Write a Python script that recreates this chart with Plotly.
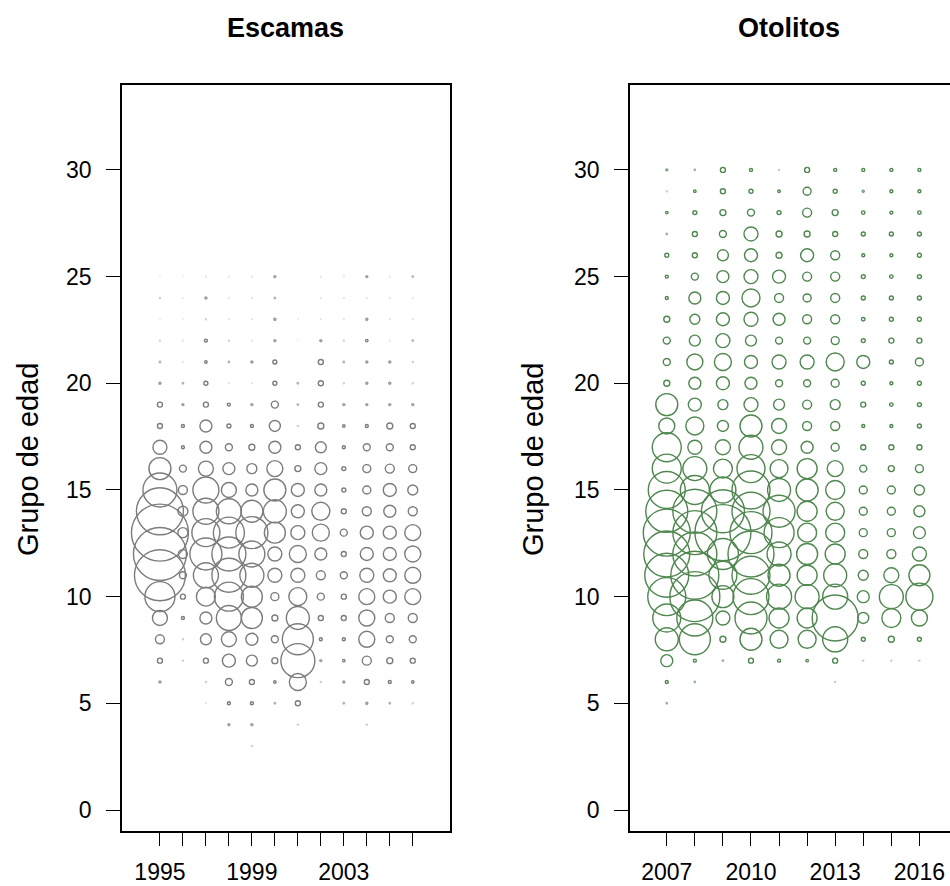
import plotly.graph_objects as go

# Numbers-at-age index by year (circle size is linear in the value, as in R's symbols()).
# Escamas: ages 3..25, years 1995..2006
esc_years = list(range(1995, 2007))
esc_ages = list(range(3, 26))
escamas = {
    1995: [0, 0, 0, 2, 5, 9, 15, 30, 51, 53, 57, 47, 34, 22, 14, 5, 5, 2, 1.5, 1, 0.5, 1, 0.5],
    1996: [0, 0, 0, 0, 1, 1, 3, 5, 7, 9, 10, 10, 9, 7, 3, 3, 2, 1.5, 0.7, 0.7, 0.5, 0.5, 0.5],
    1997: [0, 0, 0.7, 1, 5, 11, 12, 19, 25, 32, 28, 26, 26, 15, 12, 12, 5, 4, 2.5, 3, 1, 2, 0.7],
    1998: [0, 2, 3, 7, 13, 15, 25, 29, 34, 34, 31, 25, 15, 12, 7, 4, 3, 0.7, 1.5, 1, 0.7, 0.7, 0.7],
    1999: [1, 2, 3, 5, 11, 12, 21, 21, 24, 26, 32, 22, 12, 10, 6, 3, 2, 0.7, 2, 0.7, 0.7, 0.7, 0.7],
    2000: [0, 0, 1.5, 2.5, 6, 7, 6, 8, 14, 14, 21, 23, 22, 16, 12, 11, 7, 4, 4, 2, 2, 1.5, 2],
    2001: [0, 1, 5, 17, 34, 31, 23, 18, 14, 17, 14, 13, 13, 6, 5, 1, 1.5, 1.5, 0, 0.5, 0.5, 0, 0],
    2002: [0, 0, 0, 1, 2, 3, 5, 7, 9, 12, 17, 18, 12, 12, 11, 6, 5, 5, 5, 2, 0.7, 0.7, 0.7],
    2003: [0, 0, 1.5, 2, 2.5, 3, 5, 5, 7, 5, 7, 5, 4, 4, 3, 2.5, 2, 1, 1.5, 1, 0.7, 0.7, 0.7],
    2004: [0, 1, 2, 5, 9, 16, 16, 16, 14, 13, 13, 9, 8, 8, 7, 3, 2, 2, 2, 2.5, 2, 0.7, 2],
    2005: [0, 0, 1.5, 3, 6, 7, 9, 13, 13, 13, 13, 12, 13, 9, 7, 6, 2, 2, 2, 0.7, 0.7, 0.7, 0.7],
    2006: [0, 0, 1, 2.5, 5, 7, 9, 16, 16, 16, 16, 9, 10, 8, 5, 5, 2, 1, 1, 1.5, 0.7, 0.7, 1.5],
}

# Otolitos: ages 5..30, years 2007..2016
oto_years = list(range(2007, 2017))
oto_ages = list(range(5, 31))
otolitos = {
    2007: [1.5, 3, 12, 23, 28, 38, 44, 46, 47, 42, 37, 29, 29, 16, 22, 6, 7, 7, 6, 3, 3, 4, 1.5, 2.5, 1, 2],
    2008: [0, 1.5, 3, 31, 36, 50, 48, 44, 44, 44, 29, 24, 14, 18, 13, 12, 16, 11, 10, 12, 7, 5, 5, 4, 2.5, 1.5],
    2009: [0, 0, 1.5, 6, 14, 22, 28, 31, 56, 43, 26, 19, 15, 11, 10, 13, 17, 14, 13, 13, 12, 11, 7, 6, 5, 5],
    2010: [0, 0, 5, 22, 32, 36, 38, 46, 42, 38, 38, 28, 24, 22, 14, 12, 13, 11, 14, 18, 14, 13, 14, 7, 4, 3],
    2011: [0, 0, 3, 18, 20, 25, 22, 24, 30, 32, 23, 18, 15, 15, 11, 7, 14, 7, 12, 9, 13, 6, 6, 4, 2.5, 1],
    2012: [0, 0, 2.5, 18, 20, 24, 20, 21, 19, 20, 22, 20, 12, 9, 9, 7, 14, 7, 9, 8, 9, 13, 6, 9, 8, 5],
    2013: [0, 1, 5, 25, 46, 25, 23, 20, 19, 18, 19, 16, 8, 9, 10, 8, 18, 8, 9, 9, 9, 9, 5, 6, 4, 3],
    2014: [0, 0, 1, 4, 11, 12, 10, 9, 8, 8, 8, 7, 5, 3, 5, 4, 13, 4, 3.5, 4, 4, 3, 4, 3.5, 2, 3],
    2015: [0, 0, 1, 6, 19, 24, 15, 9, 8, 8, 8, 6, 5, 3, 3.5, 3, 4, 5, 4, 4, 3.5, 3, 4, 3, 3, 3],
    2016: [0, 0, 1, 4, 16, 27, 21, 14, 12, 11, 10, 8, 5, 4, 4, 4, 8, 5, 4, 4, 4, 4, 4, 3.5, 3, 3],
}

esc_labels = ["1995", "", "", "", "1999", "", "", "", "2003", "", "", ""]
oto_labels = ["2007", "", "", "2010", "", "", "2013", "", "", "2016"]
age_ticks = [0, 5, 10, 15, 20, 25, 30]

GREY = "#7c7c7c"
GREEN = "#4f874f"
FONT = "Liberation Sans, Arial, Helvetica, sans-serif"
W, H = 950, 886


def bubble_trace(table, years, ages, color, xa, ya):
    xs, ys, vals, ops = [], [], [], []
    for yr in years:
        for age, v in zip(ages, table[yr]):
            if v > 0:
                xs.append(yr)
                ys.append(age)
                vals.append(v)
                # sub-pixel circles render faint, like anti-aliased hairline rings
                ops.append(min(1.0, max(0.22, v / 2.6)))
    return go.Scatter(
        x=xs, y=ys, mode="markers", xaxis=xa, yaxis=ya, hoverinfo="x+y",
        marker=dict(symbol="circle-open", size=vals, sizemode="diameter", sizeref=1,
                    color=color, opacity=ops, line=dict(width=1.4, color=color)),
        showlegend=False,
    )


fig = go.Figure()
fig.add_trace(bubble_trace(escamas, esc_years, esc_ages, GREY, "x", "y"))
fig.add_trace(bubble_trace(otolitos, oto_years, oto_ages, GREEN, "x2", "y2"))

ydom = [1 - 830.7 / H, 1 - 85 / H]
common_axis = dict(showgrid=False, zeroline=False, showline=True, linecolor="black",
                   linewidth=1.5, ticks="outside", ticklen=14, tickwidth=1.3,
                   tickcolor="black", tickfont=dict(family=FONT, size=23, color="black"))

fig.update_layout(
    width=W, height=H, margin=dict(l=0, r=0, t=0, b=0),
    paper_bgcolor="white", plot_bgcolor="white",
    xaxis=dict(domain=[122 / W, 450 / W], range=[1993.35, 2007.62], tickmode="array",
               tickvals=esc_years, ticktext=esc_labels, mirror=True, anchor="y",
               ticklabelstandoff=6, **common_axis),
    yaxis=dict(domain=ydom, range=[-0.97, 33.98], tickmode="array", tickvals=age_ticks,
               mirror=True, anchor="x", ticklabelstandoff=10, **common_axis),
    xaxis2=dict(domain=[630 / W, 1.0], range=[2005.69, 2017.09], tickmode="array",
                tickvals=oto_years, ticktext=oto_labels, mirror=True, anchor="y2",
                ticklabelstandoff=6, **common_axis),
    yaxis2=dict(domain=ydom, range=[-0.97, 33.98], tickmode="array", tickvals=age_ticks,
                mirror=False, anchor="x2", ticklabelstandoff=10, **common_axis),
)

ann = []
for txt, xc in [("Escamas", 285), ("Otolitos", 789)]:
    ann.append(dict(text="<b>" + txt + "</b>", x=xc / W, y=1 - 28 / H, xref="paper", yref="paper",
                    showarrow=False, xanchor="center", yanchor="middle",
                    font=dict(family=FONT, size=27, color="black")))
for xc in [28, 533]:
    ann.append(dict(text="Grupo de edad", x=xc / W, y=1 - 460 / H, xref="paper", yref="paper",
                    showarrow=False, textangle=-90, xanchor="center", yanchor="middle",
                    font=dict(family=FONT, size=29, color="black")))
fig.update_layout(annotations=ann)

fig.write_html("out.html")
